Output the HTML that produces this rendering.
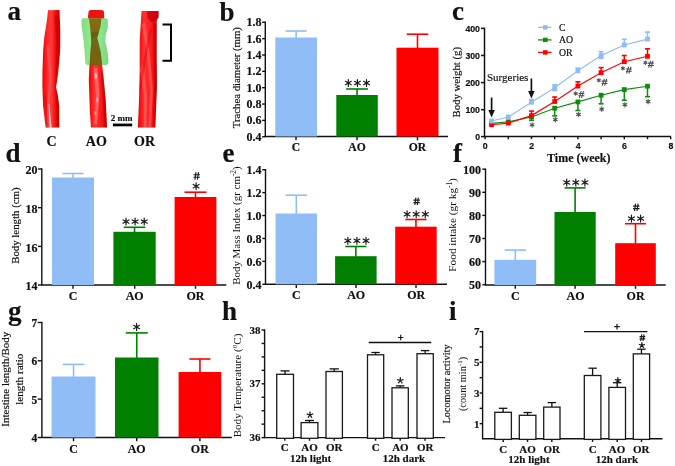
<!DOCTYPE html>
<html><head><meta charset="utf-8"><style>
html,body{margin:0;padding:0;background:#fff;}
svg{display:block;will-change:transform;}
</style></head><body>
<svg width="675" height="466" viewBox="0 0 675 466">
<rect width="675" height="466" fill="#fff"/>
<text x="7.5" y="20.2" font-family='"Liberation Serif", serif' font-size="27" font-weight="bold" text-anchor="start" fill="#111" stroke="#111" stroke-width="0.18">a</text>
<text x="219.5" y="20.6" font-family='"Liberation Serif", serif' font-size="27" font-weight="bold" text-anchor="start" fill="#111" stroke="#111" stroke-width="0.18">b</text>
<text x="452" y="20.2" font-family='"Liberation Serif", serif' font-size="27" font-weight="bold" text-anchor="start" fill="#111" stroke="#111" stroke-width="0.18">c</text>
<text x="5.5" y="161.8" font-family='"Liberation Serif", serif' font-size="27" font-weight="bold" text-anchor="start" fill="#111" stroke="#111" stroke-width="0.18">d</text>
<text x="222.5" y="161.6" font-family='"Liberation Serif", serif' font-size="27" font-weight="bold" text-anchor="start" fill="#111" stroke="#111" stroke-width="0.18">e</text>
<text x="453" y="161.8" font-family='"Liberation Serif", serif' font-size="27" font-weight="bold" text-anchor="start" fill="#111" stroke="#111" stroke-width="0.18">f</text>
<text x="8" y="320" font-family='"Liberation Serif", serif' font-size="27" font-weight="bold" text-anchor="start" fill="#111" stroke="#111" stroke-width="0.18">g</text>
<text x="222" y="319.6" font-family='"Liberation Serif", serif' font-size="27" font-weight="bold" text-anchor="start" fill="#111" stroke="#111" stroke-width="0.18">h</text>
<text x="449" y="319.6" font-family='"Liberation Serif", serif' font-size="27" font-weight="bold" text-anchor="start" fill="#111" stroke="#111" stroke-width="0.18">i</text>
<line x1="265.30" y1="21.60" x2="265.30" y2="136.50" stroke="#111" stroke-width="1.4"/>
<line x1="262.10" y1="22.30" x2="265.30" y2="22.30" stroke="#111" stroke-width="1.4"/>
<line x1="262.10" y1="38.65" x2="265.30" y2="38.65" stroke="#111" stroke-width="1.4"/>
<line x1="262.10" y1="55.00" x2="265.30" y2="55.00" stroke="#111" stroke-width="1.4"/>
<line x1="262.10" y1="71.35" x2="265.30" y2="71.35" stroke="#111" stroke-width="1.4"/>
<line x1="262.10" y1="87.70" x2="265.30" y2="87.70" stroke="#111" stroke-width="1.4"/>
<line x1="262.10" y1="104.05" x2="265.30" y2="104.05" stroke="#111" stroke-width="1.4"/>
<line x1="262.10" y1="120.40" x2="265.30" y2="120.40" stroke="#111" stroke-width="1.4"/>
<line x1="262.10" y1="136.75" x2="265.30" y2="136.75" stroke="#111" stroke-width="1.4"/>
<text x="261.5" y="26.26" font-family='"Liberation Serif", serif' font-size="12" font-weight="bold" text-anchor="end" fill="#111" stroke="#111" stroke-width="0.18">1.8</text>
<text x="261.5" y="42.61000000000001" font-family='"Liberation Serif", serif' font-size="12" font-weight="bold" text-anchor="end" fill="#111" stroke="#111" stroke-width="0.18">1.6</text>
<text x="261.5" y="58.96" font-family='"Liberation Serif", serif' font-size="12" font-weight="bold" text-anchor="end" fill="#111" stroke="#111" stroke-width="0.18">1.4</text>
<text x="261.5" y="75.31" font-family='"Liberation Serif", serif' font-size="12" font-weight="bold" text-anchor="end" fill="#111" stroke="#111" stroke-width="0.18">1.2</text>
<text x="261.5" y="91.66" font-family='"Liberation Serif", serif' font-size="12" font-weight="bold" text-anchor="end" fill="#111" stroke="#111" stroke-width="0.18">1.0</text>
<text x="261.5" y="108.00999999999999" font-family='"Liberation Serif", serif' font-size="12" font-weight="bold" text-anchor="end" fill="#111" stroke="#111" stroke-width="0.18">0.8</text>
<text x="261.5" y="124.36" font-family='"Liberation Serif", serif' font-size="12" font-weight="bold" text-anchor="end" fill="#111" stroke="#111" stroke-width="0.18">0.6</text>
<text x="261.5" y="140.71000000000004" font-family='"Liberation Serif", serif' font-size="12" font-weight="bold" text-anchor="end" fill="#111" stroke="#111" stroke-width="0.18">0.4</text>
<line x1="264.60" y1="136.50" x2="448.00" y2="136.50" stroke="#111" stroke-width="1.4"/>
<line x1="296.00" y1="136.50" x2="296.00" y2="140.30" stroke="#111" stroke-width="1.4"/>
<line x1="357.00" y1="136.50" x2="357.00" y2="140.30" stroke="#111" stroke-width="1.4"/>
<line x1="417.50" y1="136.50" x2="417.50" y2="140.30" stroke="#111" stroke-width="1.4"/>
<line x1="296.15" y1="31.00" x2="296.15" y2="38.00" stroke="#91bdf7" stroke-width="1.6"/>
<line x1="285.55" y1="31.00" x2="306.75" y2="31.00" stroke="#91bdf7" stroke-width="1.6"/>
<rect x="275.30" y="37.50" width="41.70" height="99.00" fill="#91bdf7"/>
<line x1="357.05" y1="89.00" x2="357.05" y2="95.50" stroke="#007f00" stroke-width="1.6"/>
<line x1="346.15" y1="89.00" x2="367.95" y2="89.00" stroke="#007f00" stroke-width="1.6"/>
<rect x="336.30" y="95.00" width="41.50" height="41.50" fill="#007f00"/>
<line x1="417.50" y1="34.20" x2="417.50" y2="48.20" stroke="#ff0000" stroke-width="1.6"/>
<line x1="406.70" y1="34.20" x2="428.30" y2="34.20" stroke="#ff0000" stroke-width="1.6"/>
<rect x="396.50" y="47.70" width="42.00" height="88.80" fill="#ff0000"/>
<text x="296" y="151.2" font-family='"Liberation Serif", serif' font-size="11.6" font-weight="bold" text-anchor="middle" fill="#111" stroke="#111" stroke-width="0.18">C</text>
<text x="357" y="151.2" font-family='"Liberation Serif", serif' font-size="11.6" font-weight="bold" text-anchor="middle" fill="#111" stroke="#111" stroke-width="0.18">AO</text>
<text x="417.5" y="151.2" font-family='"Liberation Serif", serif' font-size="11.6" font-weight="bold" text-anchor="middle" fill="#111" stroke="#111" stroke-width="0.18">OR</text>
<path d="M348.30,83.00L348.30,79.60M348.30,83.00L345.36,81.30M348.30,83.00L345.36,84.70M348.30,83.00L348.30,86.40M348.30,83.00L351.24,84.70M348.30,83.00L351.24,81.30" stroke="#1a1a1a" stroke-width="1.2" stroke-linecap="round" fill="none"/>
<path d="M357.40,83.00L357.40,79.60M357.40,83.00L354.46,81.30M357.40,83.00L354.46,84.70M357.40,83.00L357.40,86.40M357.40,83.00L360.34,84.70M357.40,83.00L360.34,81.30" stroke="#1a1a1a" stroke-width="1.2" stroke-linecap="round" fill="none"/>
<path d="M366.50,83.00L366.50,79.60M366.50,83.00L363.56,81.30M366.50,83.00L363.56,84.70M366.50,83.00L366.50,86.40M366.50,83.00L369.44,84.70M366.50,83.00L369.44,81.30" stroke="#1a1a1a" stroke-width="1.2" stroke-linecap="round" fill="none"/>
<text x="240.5" y="77.7" font-family='"Liberation Serif", serif' font-size="10.75" font-weight="normal" text-anchor="middle" fill="#111" stroke="#111" stroke-width="0.18" transform="rotate(-90 240.5 77.7)">Trachea diameter (mm)</text>
<line x1="484.50" y1="27.70" x2="484.50" y2="137.30" stroke="#111" stroke-width="1.5"/>
<line x1="481.00" y1="28.40" x2="484.50" y2="28.40" stroke="#111" stroke-width="1.5"/>
<line x1="481.00" y1="55.50" x2="484.50" y2="55.50" stroke="#111" stroke-width="1.5"/>
<line x1="481.00" y1="82.60" x2="484.50" y2="82.60" stroke="#111" stroke-width="1.5"/>
<line x1="481.00" y1="109.70" x2="484.50" y2="109.70" stroke="#111" stroke-width="1.5"/>
<line x1="481.00" y1="136.60" x2="484.50" y2="136.60" stroke="#111" stroke-width="1.5"/>
<text x="480" y="31.5" font-family='"Liberation Sans", sans-serif' font-size="8.75" font-weight="bold" text-anchor="end" fill="#111" stroke="#111" stroke-width="0.18">400</text>
<text x="480" y="58.6" font-family='"Liberation Sans", sans-serif' font-size="8.75" font-weight="bold" text-anchor="end" fill="#111" stroke="#111" stroke-width="0.18">300</text>
<text x="480" y="85.69999999999999" font-family='"Liberation Sans", sans-serif' font-size="8.75" font-weight="bold" text-anchor="end" fill="#111" stroke="#111" stroke-width="0.18">200</text>
<text x="480" y="112.8" font-family='"Liberation Sans", sans-serif' font-size="8.75" font-weight="bold" text-anchor="end" fill="#111" stroke="#111" stroke-width="0.18">100</text>
<text x="480" y="139.7" font-family='"Liberation Sans", sans-serif' font-size="8.75" font-weight="bold" text-anchor="end" fill="#111" stroke="#111" stroke-width="0.18">0</text>
<line x1="484.50" y1="136.60" x2="670.80" y2="136.60" stroke="#111" stroke-width="1.5"/>
<line x1="485.10" y1="136.60" x2="485.10" y2="139.20" stroke="#111" stroke-width="1.4"/>
<line x1="508.30" y1="136.60" x2="508.30" y2="139.20" stroke="#111" stroke-width="1.4"/>
<line x1="531.50" y1="136.60" x2="531.50" y2="139.20" stroke="#111" stroke-width="1.4"/>
<line x1="554.70" y1="136.60" x2="554.70" y2="139.20" stroke="#111" stroke-width="1.4"/>
<line x1="577.90" y1="136.60" x2="577.90" y2="139.20" stroke="#111" stroke-width="1.4"/>
<line x1="601.10" y1="136.60" x2="601.10" y2="139.20" stroke="#111" stroke-width="1.4"/>
<line x1="624.30" y1="136.60" x2="624.30" y2="139.20" stroke="#111" stroke-width="1.4"/>
<line x1="647.50" y1="136.60" x2="647.50" y2="139.20" stroke="#111" stroke-width="1.4"/>
<line x1="670.70" y1="136.60" x2="670.70" y2="139.20" stroke="#111" stroke-width="1.4"/>
<text x="485.3" y="149.1" font-family='"Liberation Sans", sans-serif' font-size="8.75" font-weight="bold" text-anchor="middle" fill="#111" stroke="#111" stroke-width="0.18">0</text>
<text x="531.7" y="149.1" font-family='"Liberation Sans", sans-serif' font-size="8.75" font-weight="bold" text-anchor="middle" fill="#111" stroke="#111" stroke-width="0.18">2</text>
<text x="578.1" y="149.1" font-family='"Liberation Sans", sans-serif' font-size="8.75" font-weight="bold" text-anchor="middle" fill="#111" stroke="#111" stroke-width="0.18">4</text>
<text x="624.5" y="149.1" font-family='"Liberation Sans", sans-serif' font-size="8.75" font-weight="bold" text-anchor="middle" fill="#111" stroke="#111" stroke-width="0.18">6</text>
<text x="670.9000000000001" y="149.1" font-family='"Liberation Sans", sans-serif' font-size="8.75" font-weight="bold" text-anchor="middle" fill="#111" stroke="#111" stroke-width="0.18">8</text>
<text x="578.8" y="162.4" font-family='"Liberation Serif", serif' font-size="12" font-weight="bold" text-anchor="middle" fill="#111" stroke="#111" stroke-width="0.18">Time (week)</text>
<text x="460" y="82.2" font-family='"Liberation Serif", serif' font-size="10.75" font-weight="normal" text-anchor="middle" fill="#111" stroke="#111" stroke-width="0.18" transform="rotate(-90 460 82.2)">Body weight (g)</text>
<polyline points="491.60,123.40 508.30,121.80 531.50,117.00 554.70,108.20 577.90,101.90 601.10,95.20 624.30,89.60 647.50,86.20" fill="none" stroke="#108a10" stroke-width="1.15"/>
<rect x="489.20" y="121.00" width="4.80" height="4.80" fill="#108a10"/>
<rect x="505.90" y="119.40" width="4.80" height="4.80" fill="#108a10"/>
<line x1="531.50" y1="117.00" x2="531.50" y2="120.40" stroke="#108a10" stroke-width="1.5"/>
<line x1="529.00" y1="120.40" x2="534.00" y2="120.40" stroke="#108a10" stroke-width="1.6"/>
<rect x="529.10" y="114.60" width="4.80" height="4.80" fill="#108a10"/>
<line x1="554.70" y1="108.20" x2="554.70" y2="115.90" stroke="#108a10" stroke-width="1.5"/>
<line x1="552.20" y1="115.90" x2="557.20" y2="115.90" stroke="#108a10" stroke-width="1.6"/>
<rect x="552.30" y="105.80" width="4.80" height="4.80" fill="#108a10"/>
<line x1="577.90" y1="101.90" x2="577.90" y2="110.50" stroke="#108a10" stroke-width="1.5"/>
<line x1="575.40" y1="110.50" x2="580.40" y2="110.50" stroke="#108a10" stroke-width="1.6"/>
<rect x="575.50" y="99.50" width="4.80" height="4.80" fill="#108a10"/>
<line x1="601.10" y1="95.20" x2="601.10" y2="103.80" stroke="#108a10" stroke-width="1.5"/>
<line x1="598.60" y1="103.80" x2="603.60" y2="103.80" stroke="#108a10" stroke-width="1.6"/>
<rect x="598.70" y="92.80" width="4.80" height="4.80" fill="#108a10"/>
<line x1="624.30" y1="89.60" x2="624.30" y2="100.20" stroke="#108a10" stroke-width="1.5"/>
<line x1="621.80" y1="100.20" x2="626.80" y2="100.20" stroke="#108a10" stroke-width="1.6"/>
<rect x="621.90" y="87.20" width="4.80" height="4.80" fill="#108a10"/>
<line x1="647.50" y1="86.20" x2="647.50" y2="96.70" stroke="#108a10" stroke-width="1.5"/>
<line x1="645.00" y1="96.70" x2="650.00" y2="96.70" stroke="#108a10" stroke-width="1.6"/>
<rect x="645.10" y="83.80" width="4.80" height="4.80" fill="#108a10"/>
<polyline points="491.60,124.70 508.30,123.10 531.50,115.60 554.70,101.50 577.90,86.10 601.10,72.70 624.30,61.70 647.50,56.30" fill="none" stroke="#ff0000" stroke-width="1.15"/>
<rect x="489.20" y="122.30" width="4.80" height="4.80" fill="#ff0000"/>
<rect x="505.90" y="120.70" width="4.80" height="4.80" fill="#ff0000"/>
<line x1="531.50" y1="115.60" x2="531.50" y2="111.10" stroke="#ff0000" stroke-width="1.5"/>
<line x1="529.00" y1="111.10" x2="534.00" y2="111.10" stroke="#ff0000" stroke-width="1.6"/>
<rect x="529.10" y="113.20" width="4.80" height="4.80" fill="#ff0000"/>
<line x1="554.70" y1="101.50" x2="554.70" y2="97.00" stroke="#ff0000" stroke-width="1.5"/>
<line x1="552.20" y1="97.00" x2="557.20" y2="97.00" stroke="#ff0000" stroke-width="1.6"/>
<rect x="552.30" y="99.10" width="4.80" height="4.80" fill="#ff0000"/>
<line x1="577.90" y1="86.10" x2="577.90" y2="81.80" stroke="#ff0000" stroke-width="1.5"/>
<line x1="575.40" y1="81.80" x2="580.40" y2="81.80" stroke="#ff0000" stroke-width="1.6"/>
<rect x="575.50" y="83.70" width="4.80" height="4.80" fill="#ff0000"/>
<line x1="601.10" y1="72.70" x2="601.10" y2="67.60" stroke="#ff0000" stroke-width="1.5"/>
<line x1="598.60" y1="67.60" x2="603.60" y2="67.60" stroke="#ff0000" stroke-width="1.6"/>
<rect x="598.70" y="70.30" width="4.80" height="4.80" fill="#ff0000"/>
<line x1="624.30" y1="61.70" x2="624.30" y2="55.50" stroke="#ff0000" stroke-width="1.5"/>
<line x1="621.80" y1="55.50" x2="626.80" y2="55.50" stroke="#ff0000" stroke-width="1.6"/>
<rect x="621.90" y="59.30" width="4.80" height="4.80" fill="#ff0000"/>
<line x1="647.50" y1="56.30" x2="647.50" y2="48.80" stroke="#ff0000" stroke-width="1.5"/>
<line x1="645.00" y1="48.80" x2="650.00" y2="48.80" stroke="#ff0000" stroke-width="1.6"/>
<rect x="645.10" y="53.90" width="4.80" height="4.80" fill="#ff0000"/>
<polyline points="491.60,121.00 508.30,117.00 531.50,102.20 554.70,87.80 577.90,70.80 601.10,55.60 624.30,45.00 647.50,39.10" fill="none" stroke="#90bcf2" stroke-width="1.15"/>
<rect x="489.20" y="118.60" width="4.80" height="4.80" fill="#90bcf2"/>
<rect x="505.90" y="114.60" width="4.80" height="4.80" fill="#90bcf2"/>
<line x1="531.50" y1="102.20" x2="531.50" y2="99.50" stroke="#90bcf2" stroke-width="1.5"/>
<line x1="529.00" y1="99.50" x2="534.00" y2="99.50" stroke="#90bcf2" stroke-width="1.6"/>
<rect x="529.10" y="99.80" width="4.80" height="4.80" fill="#90bcf2"/>
<line x1="554.70" y1="87.80" x2="554.70" y2="90.50" stroke="#90bcf2" stroke-width="1.5"/>
<line x1="552.20" y1="90.50" x2="557.20" y2="90.50" stroke="#90bcf2" stroke-width="1.6"/>
<line x1="554.70" y1="87.80" x2="554.70" y2="84.80" stroke="#90bcf2" stroke-width="1.5"/>
<line x1="552.20" y1="84.80" x2="557.20" y2="84.80" stroke="#90bcf2" stroke-width="1.6"/>
<rect x="552.30" y="85.40" width="4.80" height="4.80" fill="#90bcf2"/>
<line x1="577.90" y1="70.80" x2="577.90" y2="68.20" stroke="#90bcf2" stroke-width="1.5"/>
<line x1="575.40" y1="68.20" x2="580.40" y2="68.20" stroke="#90bcf2" stroke-width="1.6"/>
<rect x="575.50" y="68.40" width="4.80" height="4.80" fill="#90bcf2"/>
<line x1="601.10" y1="55.60" x2="601.10" y2="58.40" stroke="#90bcf2" stroke-width="1.5"/>
<line x1="598.60" y1="58.40" x2="603.60" y2="58.40" stroke="#90bcf2" stroke-width="1.6"/>
<line x1="601.10" y1="55.60" x2="601.10" y2="51.60" stroke="#90bcf2" stroke-width="1.5"/>
<line x1="598.60" y1="51.60" x2="603.60" y2="51.60" stroke="#90bcf2" stroke-width="1.6"/>
<rect x="598.70" y="53.20" width="4.80" height="4.80" fill="#90bcf2"/>
<line x1="624.30" y1="45.00" x2="624.30" y2="39.30" stroke="#90bcf2" stroke-width="1.5"/>
<line x1="621.80" y1="39.30" x2="626.80" y2="39.30" stroke="#90bcf2" stroke-width="1.6"/>
<rect x="621.90" y="42.60" width="4.80" height="4.80" fill="#90bcf2"/>
<line x1="647.50" y1="39.10" x2="647.50" y2="32.10" stroke="#90bcf2" stroke-width="1.5"/>
<line x1="645.00" y1="32.10" x2="650.00" y2="32.10" stroke="#90bcf2" stroke-width="1.6"/>
<rect x="645.10" y="36.70" width="4.80" height="4.80" fill="#90bcf2"/>
<path d="M532.10,124.90L532.10,122.70M532.10,124.90L530.19,123.80M532.10,124.90L530.19,126.00M532.10,124.90L532.10,127.10M532.10,124.90L534.01,126.00M532.10,124.90L534.01,123.80" stroke="#555" stroke-width="1.15" stroke-linecap="round" fill="none"/>
<path d="M555.30,119.60L555.30,117.40M555.30,119.60L553.39,118.50M555.30,119.60L553.39,120.70M555.30,119.60L555.30,121.80M555.30,119.60L557.21,120.70M555.30,119.60L557.21,118.50" stroke="#555" stroke-width="1.15" stroke-linecap="round" fill="none"/>
<path d="M578.50,114.40L578.50,112.20M578.50,114.40L576.59,113.30M578.50,114.40L576.59,115.50M578.50,114.40L578.50,116.60M578.50,114.40L580.41,115.50M578.50,114.40L580.41,113.30" stroke="#555" stroke-width="1.15" stroke-linecap="round" fill="none"/>
<path d="M601.70,109.10L601.70,106.90M601.70,109.10L599.79,108.00M601.70,109.10L599.79,110.20M601.70,109.10L601.70,111.30M601.70,109.10L603.61,110.20M601.70,109.10L603.61,108.00" stroke="#555" stroke-width="1.15" stroke-linecap="round" fill="none"/>
<path d="M624.90,104.70L624.90,102.50M624.90,104.70L622.99,103.60M624.90,104.70L622.99,105.80M624.90,104.70L624.90,106.90M624.90,104.70L626.81,105.80M624.90,104.70L626.81,103.60" stroke="#555" stroke-width="1.15" stroke-linecap="round" fill="none"/>
<path d="M648.10,101.60L648.10,99.40M648.10,101.60L646.19,100.50M648.10,101.60L646.19,102.70M648.10,101.60L648.10,103.80M648.10,101.60L650.01,102.70M648.10,101.60L650.01,100.50" stroke="#555" stroke-width="1.15" stroke-linecap="round" fill="none"/>
<path d="M575.70,93.50L575.70,91.80M575.70,93.50L574.23,92.65M575.70,93.50L574.23,94.35M575.70,93.50L575.70,95.20M575.70,93.50L577.17,94.35M575.70,93.50L577.17,92.65" stroke="#555" stroke-width="1.1" stroke-linecap="round" fill="none"/>
<path d="M581.26,91.09L579.24,97.90M583.56,91.09L581.54,97.90M578.46,93.41L584.34,93.41M578.46,95.72L584.34,95.72" stroke="#4a4a4a" stroke-width="1.05" fill="none"/>
<path d="M598.80,80.30L598.80,78.60M598.80,80.30L597.33,79.45M598.80,80.30L597.33,81.15M598.80,80.30L598.80,82.00M598.80,80.30L600.27,81.15M598.80,80.30L600.27,79.45" stroke="#555" stroke-width="1.1" stroke-linecap="round" fill="none"/>
<path d="M604.36,78.79L602.34,85.60M606.66,78.79L604.64,85.60M601.56,81.11L607.44,81.11M601.56,83.42L607.44,83.42" stroke="#4a4a4a" stroke-width="1.05" fill="none"/>
<path d="M622.90,68.30L622.90,66.60M622.90,68.30L621.43,67.45M622.90,68.30L621.43,69.15M622.90,68.30L622.90,70.00M622.90,68.30L624.37,69.15M622.90,68.30L624.37,67.45" stroke="#555" stroke-width="1.1" stroke-linecap="round" fill="none"/>
<path d="M628.66,66.69L626.64,73.50M630.96,66.69L628.94,73.50M625.86,69.01L631.74,69.01M625.86,71.32L631.74,71.32" stroke="#4a4a4a" stroke-width="1.05" fill="none"/>
<path d="M645.40,62.70L645.40,61.00M645.40,62.70L643.93,61.85M645.40,62.70L643.93,63.55M645.40,62.70L645.40,64.40M645.40,62.70L646.87,63.55M645.40,62.70L646.87,61.85" stroke="#555" stroke-width="1.1" stroke-linecap="round" fill="none"/>
<path d="M650.66,60.79L648.64,67.60M652.96,60.79L650.94,67.60M647.86,63.11L653.74,63.11M647.86,65.42L653.74,65.42" stroke="#4a4a4a" stroke-width="1.05" fill="none"/>
<line x1="491.60" y1="97.50" x2="491.60" y2="111.50" stroke="#111" stroke-width="1.7"/>
<polygon points="488.3,110.0 494.90000000000003,110.0 491.6,117.5" fill="#111"/>
<line x1="531.40" y1="78.50" x2="531.40" y2="92.40" stroke="#111" stroke-width="1.7"/>
<polygon points="528.1,90.9 534.6999999999999,90.9 531.4,98.4" fill="#111"/>
<text x="487" y="81" font-family='"Liberation Serif", serif' font-size="11" font-weight="normal" text-anchor="start" fill="#111" stroke="#111" stroke-width="0.18">Surgeries</text>
<line x1="538.00" y1="27.40" x2="551.50" y2="27.40" stroke="#90bcf2" stroke-width="1.3"/>
<rect x="543.00" y="25.20" width="4.60" height="4.40" fill="#90bcf2"/>
<text x="559" y="30.799999999999997" font-family='"Liberation Serif", serif' font-size="9.8" font-weight="normal" text-anchor="start" fill="#111" stroke="#111" stroke-width="0.18">C</text>
<line x1="538.00" y1="39.90" x2="551.50" y2="39.90" stroke="#108a10" stroke-width="1.3"/>
<rect x="543.00" y="37.70" width="4.60" height="4.40" fill="#108a10"/>
<text x="559" y="43.3" font-family='"Liberation Serif", serif' font-size="9.8" font-weight="normal" text-anchor="start" fill="#111" stroke="#111" stroke-width="0.18">AO</text>
<line x1="538.00" y1="52.40" x2="551.50" y2="52.40" stroke="#ff0000" stroke-width="1.3"/>
<rect x="543.00" y="50.20" width="4.60" height="4.40" fill="#ff0000"/>
<text x="559" y="55.8" font-family='"Liberation Serif", serif' font-size="9.8" font-weight="normal" text-anchor="start" fill="#111" stroke="#111" stroke-width="0.18">OR</text>
<line x1="41.80" y1="168.30" x2="41.80" y2="285.00" stroke="#111" stroke-width="1.4"/>
<line x1="38.00" y1="169.00" x2="41.80" y2="169.00" stroke="#111" stroke-width="1.4"/>
<line x1="38.00" y1="207.70" x2="41.80" y2="207.70" stroke="#111" stroke-width="1.4"/>
<line x1="38.00" y1="246.40" x2="41.80" y2="246.40" stroke="#111" stroke-width="1.4"/>
<line x1="38.00" y1="285.00" x2="41.80" y2="285.00" stroke="#111" stroke-width="1.4"/>
<text x="37.6" y="174.1" font-family='"Liberation Serif", serif' font-size="12" font-weight="bold" text-anchor="end" fill="#111" stroke="#111" stroke-width="0.18">20</text>
<text x="37.6" y="212.79999999999998" font-family='"Liberation Serif", serif' font-size="12" font-weight="bold" text-anchor="end" fill="#111" stroke="#111" stroke-width="0.18">18</text>
<text x="37.6" y="251.5" font-family='"Liberation Serif", serif' font-size="12" font-weight="bold" text-anchor="end" fill="#111" stroke="#111" stroke-width="0.18">16</text>
<text x="37.6" y="290.1" font-family='"Liberation Serif", serif' font-size="12" font-weight="bold" text-anchor="end" fill="#111" stroke="#111" stroke-width="0.18">14</text>
<line x1="41.10" y1="285.00" x2="226.30" y2="285.00" stroke="#111" stroke-width="1.4"/>
<line x1="73.00" y1="285.00" x2="73.00" y2="288.80" stroke="#111" stroke-width="1.4"/>
<line x1="134.70" y1="285.00" x2="134.70" y2="288.80" stroke="#111" stroke-width="1.4"/>
<line x1="195.50" y1="285.00" x2="195.50" y2="288.80" stroke="#111" stroke-width="1.4"/>
<line x1="73.00" y1="173.50" x2="73.00" y2="178.00" stroke="#91bdf7" stroke-width="1.6"/>
<line x1="62.40" y1="173.50" x2="83.60" y2="173.50" stroke="#91bdf7" stroke-width="1.6"/>
<rect x="52.00" y="177.50" width="42.00" height="107.50" fill="#91bdf7"/>
<line x1="134.55" y1="227.30" x2="134.55" y2="232.30" stroke="#007f00" stroke-width="1.6"/>
<line x1="123.65" y1="227.30" x2="145.45" y2="227.30" stroke="#007f00" stroke-width="1.6"/>
<rect x="113.40" y="231.80" width="42.30" height="53.20" fill="#007f00"/>
<line x1="195.50" y1="192.20" x2="195.50" y2="197.50" stroke="#ff0000" stroke-width="1.6"/>
<line x1="184.50" y1="192.20" x2="206.50" y2="192.20" stroke="#ff0000" stroke-width="1.6"/>
<rect x="174.60" y="197.00" width="41.80" height="88.00" fill="#ff0000"/>
<text x="73" y="300" font-family='"Liberation Serif", serif' font-size="12" font-weight="bold" text-anchor="middle" fill="#111" stroke="#111" stroke-width="0.18">C</text>
<text x="134.7" y="300" font-family='"Liberation Serif", serif' font-size="12" font-weight="bold" text-anchor="middle" fill="#111" stroke="#111" stroke-width="0.18">AO</text>
<text x="195.5" y="300" font-family='"Liberation Serif", serif' font-size="12" font-weight="bold" text-anchor="middle" fill="#111" stroke="#111" stroke-width="0.18">OR</text>
<path d="M126.00,221.60L126.00,218.20M126.00,221.60L123.06,219.90M126.00,221.60L123.06,223.30M126.00,221.60L126.00,225.00M126.00,221.60L128.94,223.30M126.00,221.60L128.94,219.90" stroke="#1a1a1a" stroke-width="1.2" stroke-linecap="round" fill="none"/>
<path d="M135.10,221.60L135.10,218.20M135.10,221.60L132.16,219.90M135.10,221.60L132.16,223.30M135.10,221.60L135.10,225.00M135.10,221.60L138.04,223.30M135.10,221.60L138.04,219.90" stroke="#1a1a1a" stroke-width="1.2" stroke-linecap="round" fill="none"/>
<path d="M144.20,221.60L144.20,218.20M144.20,221.60L141.26,219.90M144.20,221.60L141.26,223.30M144.20,221.60L144.20,225.00M144.20,221.60L147.14,223.30M144.20,221.60L147.14,219.90" stroke="#1a1a1a" stroke-width="1.2" stroke-linecap="round" fill="none"/>
<path d="M196.10,186.20L196.10,182.80M196.10,186.20L193.16,184.50M196.10,186.20L193.16,187.90M196.10,186.20L196.10,189.60M196.10,186.20L199.04,187.90M196.10,186.20L199.04,184.50" stroke="#1a1a1a" stroke-width="1.2" stroke-linecap="round" fill="none"/>
<path d="M196.00,172.20L194.90,179.60M198.50,172.20L197.40,179.60M193.50,174.72L199.90,174.72M193.50,177.23L199.90,177.23" stroke="#1a1a1a" stroke-width="1.15" fill="none"/>
<text x="19.5" y="225.6" font-family='"Liberation Serif", serif' font-size="10.85" font-weight="normal" text-anchor="middle" fill="#111" stroke="#111" stroke-width="0.18" transform="rotate(-90 19.5 225.6)">Body length (cm)</text>
<line x1="265.50" y1="169.00" x2="265.50" y2="284.30" stroke="#111" stroke-width="1.4"/>
<line x1="262.30" y1="169.70" x2="265.50" y2="169.70" stroke="#111" stroke-width="1.4"/>
<line x1="262.30" y1="192.62" x2="265.50" y2="192.62" stroke="#111" stroke-width="1.4"/>
<line x1="262.30" y1="215.54" x2="265.50" y2="215.54" stroke="#111" stroke-width="1.4"/>
<line x1="262.30" y1="238.46" x2="265.50" y2="238.46" stroke="#111" stroke-width="1.4"/>
<line x1="262.30" y1="261.38" x2="265.50" y2="261.38" stroke="#111" stroke-width="1.4"/>
<line x1="262.30" y1="284.30" x2="265.50" y2="284.30" stroke="#111" stroke-width="1.4"/>
<text x="261.5" y="174.39999999999998" font-family='"Liberation Serif", serif' font-size="12" font-weight="bold" text-anchor="end" fill="#111" stroke="#111" stroke-width="0.18">1.4</text>
<text x="261.5" y="197.32" font-family='"Liberation Serif", serif' font-size="12" font-weight="bold" text-anchor="end" fill="#111" stroke="#111" stroke-width="0.18">1.2</text>
<text x="261.5" y="220.23999999999998" font-family='"Liberation Serif", serif' font-size="12" font-weight="bold" text-anchor="end" fill="#111" stroke="#111" stroke-width="0.18">1.0</text>
<text x="261.5" y="243.15999999999997" font-family='"Liberation Serif", serif' font-size="12" font-weight="bold" text-anchor="end" fill="#111" stroke="#111" stroke-width="0.18">0.8</text>
<text x="261.5" y="266.08" font-family='"Liberation Serif", serif' font-size="12" font-weight="bold" text-anchor="end" fill="#111" stroke="#111" stroke-width="0.18">0.6</text>
<text x="261.5" y="289.0" font-family='"Liberation Serif", serif' font-size="12" font-weight="bold" text-anchor="end" fill="#111" stroke="#111" stroke-width="0.18">0.4</text>
<line x1="264.80" y1="284.30" x2="447.00" y2="284.30" stroke="#111" stroke-width="1.4"/>
<line x1="296.30" y1="284.30" x2="296.30" y2="288.10" stroke="#111" stroke-width="1.4"/>
<line x1="356.00" y1="284.30" x2="356.00" y2="288.10" stroke="#111" stroke-width="1.4"/>
<line x1="416.00" y1="284.30" x2="416.00" y2="288.10" stroke="#111" stroke-width="1.4"/>
<line x1="296.30" y1="195.20" x2="296.30" y2="214.00" stroke="#91bdf7" stroke-width="1.6"/>
<line x1="285.70" y1="195.20" x2="306.90" y2="195.20" stroke="#91bdf7" stroke-width="1.6"/>
<rect x="275.60" y="213.50" width="41.40" height="70.80" fill="#91bdf7"/>
<line x1="355.85" y1="246.50" x2="355.85" y2="256.70" stroke="#007f00" stroke-width="1.6"/>
<line x1="345.25" y1="246.50" x2="366.45" y2="246.50" stroke="#007f00" stroke-width="1.6"/>
<rect x="335.10" y="256.20" width="41.50" height="28.10" fill="#007f00"/>
<line x1="415.95" y1="219.50" x2="415.95" y2="227.20" stroke="#ff0000" stroke-width="1.6"/>
<line x1="405.35" y1="219.50" x2="426.55" y2="219.50" stroke="#ff0000" stroke-width="1.6"/>
<rect x="395.20" y="226.70" width="41.50" height="57.60" fill="#ff0000"/>
<text x="296.3" y="298.8" font-family='"Liberation Serif", serif' font-size="12" font-weight="bold" text-anchor="middle" fill="#111" stroke="#111" stroke-width="0.18">C</text>
<text x="356.2" y="298.8" font-family='"Liberation Serif", serif' font-size="12" font-weight="bold" text-anchor="middle" fill="#111" stroke="#111" stroke-width="0.18">AO</text>
<text x="416.2" y="298.8" font-family='"Liberation Serif", serif' font-size="12" font-weight="bold" text-anchor="middle" fill="#111" stroke="#111" stroke-width="0.18">OR</text>
<path d="M347.80,240.80L347.80,237.40M347.80,240.80L344.86,239.10M347.80,240.80L344.86,242.50M347.80,240.80L347.80,244.20M347.80,240.80L350.74,242.50M347.80,240.80L350.74,239.10" stroke="#1a1a1a" stroke-width="1.2" stroke-linecap="round" fill="none"/>
<path d="M356.90,240.80L356.90,237.40M356.90,240.80L353.96,239.10M356.90,240.80L353.96,242.50M356.90,240.80L356.90,244.20M356.90,240.80L359.84,242.50M356.90,240.80L359.84,239.10" stroke="#1a1a1a" stroke-width="1.2" stroke-linecap="round" fill="none"/>
<path d="M366.00,240.80L366.00,237.40M366.00,240.80L363.06,239.10M366.00,240.80L363.06,242.50M366.00,240.80L366.00,244.20M366.00,240.80L368.94,242.50M366.00,240.80L368.94,239.10" stroke="#1a1a1a" stroke-width="1.2" stroke-linecap="round" fill="none"/>
<path d="M407.10,214.30L407.10,210.90M407.10,214.30L404.16,212.60M407.10,214.30L404.16,216.00M407.10,214.30L407.10,217.70M407.10,214.30L410.04,216.00M407.10,214.30L410.04,212.60" stroke="#1a1a1a" stroke-width="1.2" stroke-linecap="round" fill="none"/>
<path d="M416.20,214.30L416.20,210.90M416.20,214.30L413.26,212.60M416.20,214.30L413.26,216.00M416.20,214.30L416.20,217.70M416.20,214.30L419.14,216.00M416.20,214.30L419.14,212.60" stroke="#1a1a1a" stroke-width="1.2" stroke-linecap="round" fill="none"/>
<path d="M425.30,214.30L425.30,210.90M425.30,214.30L422.36,212.60M425.30,214.30L422.36,216.00M425.30,214.30L425.30,217.70M425.30,214.30L428.24,216.00M425.30,214.30L428.24,212.60" stroke="#1a1a1a" stroke-width="1.2" stroke-linecap="round" fill="none"/>
<path d="M415.90,197.60L414.80,205.00M418.40,197.60L417.30,205.00M413.40,200.12L419.80,200.12M413.40,202.63L419.80,202.63" stroke="#1a1a1a" stroke-width="1.15" fill="none"/>
<text x="240.5" y="225.6" font-family='"Liberation Serif", serif' font-size="10.95" text-anchor="middle" fill="#111" transform="rotate(-90 240.5 225.6)">Body Mass Index (gr cm<tspan font-size="7.2" dy="-4.5">-2</tspan><tspan dy="4.5">)</tspan></text>
<line x1="485.50" y1="168.50" x2="485.50" y2="285.00" stroke="#111" stroke-width="1.4"/>
<line x1="482.30" y1="169.20" x2="485.50" y2="169.20" stroke="#111" stroke-width="1.4"/>
<line x1="482.30" y1="192.30" x2="485.50" y2="192.30" stroke="#111" stroke-width="1.4"/>
<line x1="482.30" y1="215.40" x2="485.50" y2="215.40" stroke="#111" stroke-width="1.4"/>
<line x1="482.30" y1="238.50" x2="485.50" y2="238.50" stroke="#111" stroke-width="1.4"/>
<line x1="482.30" y1="261.60" x2="485.50" y2="261.60" stroke="#111" stroke-width="1.4"/>
<line x1="482.30" y1="284.70" x2="485.50" y2="284.70" stroke="#111" stroke-width="1.4"/>
<text x="481" y="173.89999999999998" font-family='"Liberation Serif", serif' font-size="12" font-weight="bold" text-anchor="end" fill="#111" stroke="#111" stroke-width="0.18">100</text>
<text x="481" y="196.99999999999997" font-family='"Liberation Serif", serif' font-size="12" font-weight="bold" text-anchor="end" fill="#111" stroke="#111" stroke-width="0.18">90</text>
<text x="481" y="220.09999999999997" font-family='"Liberation Serif", serif' font-size="12" font-weight="bold" text-anchor="end" fill="#111" stroke="#111" stroke-width="0.18">80</text>
<text x="481" y="243.2" font-family='"Liberation Serif", serif' font-size="12" font-weight="bold" text-anchor="end" fill="#111" stroke="#111" stroke-width="0.18">70</text>
<text x="481" y="266.3" font-family='"Liberation Serif", serif' font-size="12" font-weight="bold" text-anchor="end" fill="#111" stroke="#111" stroke-width="0.18">60</text>
<text x="481" y="289.4" font-family='"Liberation Serif", serif' font-size="12" font-weight="bold" text-anchor="end" fill="#111" stroke="#111" stroke-width="0.18">50</text>
<line x1="484.80" y1="285.00" x2="665.70" y2="285.00" stroke="#111" stroke-width="1.4"/>
<line x1="515.30" y1="285.00" x2="515.30" y2="288.80" stroke="#111" stroke-width="1.4"/>
<line x1="575.10" y1="285.00" x2="575.10" y2="288.80" stroke="#111" stroke-width="1.4"/>
<line x1="635.50" y1="285.00" x2="635.50" y2="288.80" stroke="#111" stroke-width="1.4"/>
<line x1="515.30" y1="250.10" x2="515.30" y2="260.30" stroke="#91bdf7" stroke-width="1.6"/>
<line x1="504.70" y1="250.10" x2="525.90" y2="250.10" stroke="#91bdf7" stroke-width="1.6"/>
<rect x="494.40" y="259.80" width="41.80" height="25.20" fill="#91bdf7"/>
<line x1="575.10" y1="187.90" x2="575.10" y2="212.50" stroke="#007f00" stroke-width="1.6"/>
<line x1="564.60" y1="187.90" x2="585.60" y2="187.90" stroke="#007f00" stroke-width="1.6"/>
<rect x="554.50" y="212.00" width="41.20" height="73.00" fill="#007f00"/>
<line x1="635.50" y1="223.70" x2="635.50" y2="243.70" stroke="#ff0000" stroke-width="1.6"/>
<line x1="625.00" y1="223.70" x2="646.00" y2="223.70" stroke="#ff0000" stroke-width="1.6"/>
<rect x="615.20" y="243.20" width="40.60" height="41.80" fill="#ff0000"/>
<text x="515.3" y="299.5" font-family='"Liberation Serif", serif' font-size="12" font-weight="bold" text-anchor="middle" fill="#111" stroke="#111" stroke-width="0.18">C</text>
<text x="575.6" y="299.5" font-family='"Liberation Serif", serif' font-size="12" font-weight="bold" text-anchor="middle" fill="#111" stroke="#111" stroke-width="0.18">AO</text>
<text x="635.6" y="299.5" font-family='"Liberation Serif", serif' font-size="12" font-weight="bold" text-anchor="middle" fill="#111" stroke="#111" stroke-width="0.18">OR</text>
<path d="M566.70,182.50L566.70,179.10M566.70,182.50L563.76,180.80M566.70,182.50L563.76,184.20M566.70,182.50L566.70,185.90M566.70,182.50L569.64,184.20M566.70,182.50L569.64,180.80" stroke="#1a1a1a" stroke-width="1.2" stroke-linecap="round" fill="none"/>
<path d="M575.80,182.50L575.80,179.10M575.80,182.50L572.86,180.80M575.80,182.50L572.86,184.20M575.80,182.50L575.80,185.90M575.80,182.50L578.74,184.20M575.80,182.50L578.74,180.80" stroke="#1a1a1a" stroke-width="1.2" stroke-linecap="round" fill="none"/>
<path d="M584.90,182.50L584.90,179.10M584.90,182.50L581.96,180.80M584.90,182.50L581.96,184.20M584.90,182.50L584.90,185.90M584.90,182.50L587.84,184.20M584.90,182.50L587.84,180.80" stroke="#1a1a1a" stroke-width="1.2" stroke-linecap="round" fill="none"/>
<path d="M631.45,218.60L631.45,215.20M631.45,218.60L628.51,216.90M631.45,218.60L628.51,220.30M631.45,218.60L631.45,222.00M631.45,218.60L634.39,220.30M631.45,218.60L634.39,216.90" stroke="#1a1a1a" stroke-width="1.2" stroke-linecap="round" fill="none"/>
<path d="M640.55,218.60L640.55,215.20M640.55,218.60L637.61,216.90M640.55,218.60L637.61,220.30M640.55,218.60L640.55,222.00M640.55,218.60L643.49,220.30M640.55,218.60L643.49,216.90" stroke="#1a1a1a" stroke-width="1.2" stroke-linecap="round" fill="none"/>
<path d="M635.60,203.60L634.50,211.00M638.10,203.60L637.00,211.00M633.10,206.12L639.50,206.12M633.10,208.63L639.50,208.63" stroke="#1a1a1a" stroke-width="1.15" fill="none"/>
<text x="456.2" y="224.9" font-family='"Liberation Serif", serif' font-size="11.3" text-anchor="middle" fill="#111" transform="rotate(-90 456.2 224.9)">Food intake (gr kg<tspan font-size="7.2" dy="-4.5">-1</tspan><tspan dy="4.5">)</tspan></text>
<line x1="41.90" y1="321.80" x2="41.90" y2="437.50" stroke="#111" stroke-width="1.4"/>
<line x1="37.70" y1="322.50" x2="41.90" y2="322.50" stroke="#111" stroke-width="1.4"/>
<line x1="37.70" y1="360.80" x2="41.90" y2="360.80" stroke="#111" stroke-width="1.4"/>
<line x1="37.70" y1="399.10" x2="41.90" y2="399.10" stroke="#111" stroke-width="1.4"/>
<line x1="37.70" y1="437.50" x2="41.90" y2="437.50" stroke="#111" stroke-width="1.4"/>
<text x="37.2" y="326.9" font-family='"Liberation Serif", serif' font-size="11.5" font-weight="bold" text-anchor="end" fill="#111" stroke="#111" stroke-width="0.18">7</text>
<text x="37.2" y="365.2" font-family='"Liberation Serif", serif' font-size="11.5" font-weight="bold" text-anchor="end" fill="#111" stroke="#111" stroke-width="0.18">6</text>
<text x="37.2" y="403.5" font-family='"Liberation Serif", serif' font-size="11.5" font-weight="bold" text-anchor="end" fill="#111" stroke="#111" stroke-width="0.18">5</text>
<text x="37.2" y="441.9" font-family='"Liberation Serif", serif' font-size="11.5" font-weight="bold" text-anchor="end" fill="#111" stroke="#111" stroke-width="0.18">4</text>
<line x1="41.20" y1="437.50" x2="231.80" y2="437.50" stroke="#111" stroke-width="1.4"/>
<line x1="73.50" y1="437.50" x2="73.50" y2="441.30" stroke="#111" stroke-width="1.4"/>
<line x1="136.70" y1="437.50" x2="136.70" y2="441.30" stroke="#111" stroke-width="1.4"/>
<line x1="199.90" y1="437.50" x2="199.90" y2="441.30" stroke="#111" stroke-width="1.4"/>
<line x1="73.55" y1="364.40" x2="73.55" y2="377.00" stroke="#91bdf7" stroke-width="1.6"/>
<line x1="62.75" y1="364.40" x2="84.35" y2="364.40" stroke="#91bdf7" stroke-width="1.6"/>
<rect x="51.60" y="376.50" width="43.90" height="61.00" fill="#91bdf7"/>
<line x1="136.75" y1="332.90" x2="136.75" y2="358.00" stroke="#007f00" stroke-width="1.6"/>
<line x1="125.75" y1="332.90" x2="147.75" y2="332.90" stroke="#007f00" stroke-width="1.6"/>
<rect x="115.00" y="357.50" width="43.50" height="80.00" fill="#007f00"/>
<line x1="199.95" y1="359.00" x2="199.95" y2="372.50" stroke="#ff0000" stroke-width="1.6"/>
<line x1="189.45" y1="359.00" x2="210.45" y2="359.00" stroke="#ff0000" stroke-width="1.6"/>
<rect x="178.60" y="372.00" width="42.70" height="65.50" fill="#ff0000"/>
<text x="73.5" y="452.6" font-family='"Liberation Serif", serif' font-size="12" font-weight="bold" text-anchor="middle" fill="#111" stroke="#111" stroke-width="0.18">C</text>
<text x="136.7" y="452.6" font-family='"Liberation Serif", serif' font-size="12" font-weight="bold" text-anchor="middle" fill="#111" stroke="#111" stroke-width="0.18">AO</text>
<text x="199.8" y="452.6" font-family='"Liberation Serif", serif' font-size="12" font-weight="bold" text-anchor="middle" fill="#111" stroke="#111" stroke-width="0.18">OR</text>
<path d="M136.60,327.00L136.60,323.60M136.60,327.00L133.66,325.30M136.60,327.00L133.66,328.70M136.60,327.00L136.60,330.40M136.60,327.00L139.54,328.70M136.60,327.00L139.54,325.30" stroke="#1a1a1a" stroke-width="1.2" stroke-linecap="round" fill="none"/>
<text x="8.9" y="379.2" font-family='"Liberation Serif", serif' font-size="11" font-weight="normal" text-anchor="middle" fill="#111" stroke="#111" stroke-width="0.18" transform="rotate(-90 8.9 379.2)">Intestine length/Body</text>
<text x="23.3" y="379.2" font-family='"Liberation Serif", serif' font-size="11.2" font-weight="normal" text-anchor="middle" fill="#111" stroke="#111" stroke-width="0.18" transform="rotate(-90 23.3 379.2)">length ratio</text>
<line x1="264.60" y1="329.30" x2="264.60" y2="437.60" stroke="#111" stroke-width="1.4"/>
<line x1="261.60" y1="330.00" x2="264.60" y2="330.00" stroke="#111" stroke-width="1.4"/>
<line x1="261.60" y1="343.45" x2="264.60" y2="343.45" stroke="#111" stroke-width="1.4"/>
<line x1="261.60" y1="356.90" x2="264.60" y2="356.90" stroke="#111" stroke-width="1.4"/>
<line x1="261.60" y1="370.35" x2="264.60" y2="370.35" stroke="#111" stroke-width="1.4"/>
<line x1="261.60" y1="383.80" x2="264.60" y2="383.80" stroke="#111" stroke-width="1.4"/>
<line x1="261.60" y1="397.25" x2="264.60" y2="397.25" stroke="#111" stroke-width="1.4"/>
<line x1="261.60" y1="410.70" x2="264.60" y2="410.70" stroke="#111" stroke-width="1.4"/>
<line x1="261.60" y1="424.15" x2="264.60" y2="424.15" stroke="#111" stroke-width="1.4"/>
<line x1="261.60" y1="437.60" x2="264.60" y2="437.60" stroke="#111" stroke-width="1.4"/>
<text x="260.5" y="333.6" font-family='"Liberation Serif", serif' font-size="11" font-weight="bold" text-anchor="end" fill="#111" stroke="#111" stroke-width="0.18">38</text>
<text x="260.5" y="387.40000000000003" font-family='"Liberation Serif", serif' font-size="11" font-weight="bold" text-anchor="end" fill="#111" stroke="#111" stroke-width="0.18">37</text>
<text x="260.5" y="441.20000000000005" font-family='"Liberation Serif", serif' font-size="11" font-weight="bold" text-anchor="end" fill="#111" stroke="#111" stroke-width="0.18">36</text>
<line x1="263.90" y1="437.60" x2="445.00" y2="437.60" stroke="#111" stroke-width="1.4"/>
<line x1="284.80" y1="437.60" x2="284.80" y2="440.80" stroke="#111" stroke-width="1.4"/>
<line x1="309.50" y1="437.60" x2="309.50" y2="440.80" stroke="#111" stroke-width="1.4"/>
<line x1="334.20" y1="437.60" x2="334.20" y2="440.80" stroke="#111" stroke-width="1.4"/>
<line x1="375.60" y1="437.60" x2="375.60" y2="440.80" stroke="#111" stroke-width="1.4"/>
<line x1="400.20" y1="437.60" x2="400.20" y2="440.80" stroke="#111" stroke-width="1.4"/>
<line x1="425.00" y1="437.60" x2="425.00" y2="440.80" stroke="#111" stroke-width="1.4"/>
<line x1="285.10" y1="370.90" x2="285.10" y2="374.30" stroke="#111" stroke-width="1.3"/>
<line x1="280.60" y1="370.90" x2="289.60" y2="370.90" stroke="#111" stroke-width="1.3"/>
<rect x="276.70" y="374.30" width="16.80" height="64.00" fill="#fff" stroke="#1a1a1a" stroke-width="1.3"/>
<line x1="309.50" y1="420.50" x2="309.50" y2="422.60" stroke="#111" stroke-width="1.3"/>
<line x1="305.00" y1="420.50" x2="314.00" y2="420.50" stroke="#111" stroke-width="1.3"/>
<rect x="301.10" y="422.60" width="16.80" height="15.70" fill="#fff" stroke="#1a1a1a" stroke-width="1.3"/>
<line x1="334.20" y1="368.90" x2="334.20" y2="371.50" stroke="#111" stroke-width="1.3"/>
<line x1="329.60" y1="368.90" x2="338.80" y2="368.90" stroke="#111" stroke-width="1.3"/>
<rect x="326.00" y="371.50" width="16.40" height="66.80" fill="#fff" stroke="#1a1a1a" stroke-width="1.3"/>
<line x1="375.60" y1="352.50" x2="375.60" y2="354.80" stroke="#111" stroke-width="1.3"/>
<line x1="371.40" y1="352.50" x2="379.80" y2="352.50" stroke="#111" stroke-width="1.3"/>
<rect x="367.50" y="354.80" width="16.20" height="83.50" fill="#fff" stroke="#1a1a1a" stroke-width="1.3"/>
<line x1="400.15" y1="385.90" x2="400.15" y2="387.80" stroke="#111" stroke-width="1.3"/>
<line x1="395.85" y1="385.90" x2="404.45" y2="385.90" stroke="#111" stroke-width="1.3"/>
<rect x="392.00" y="387.80" width="16.30" height="50.50" fill="#fff" stroke="#1a1a1a" stroke-width="1.3"/>
<line x1="425.15" y1="350.60" x2="425.15" y2="353.70" stroke="#111" stroke-width="1.3"/>
<line x1="420.85" y1="350.60" x2="429.45" y2="350.60" stroke="#111" stroke-width="1.3"/>
<rect x="417.00" y="353.70" width="16.30" height="84.60" fill="#fff" stroke="#1a1a1a" stroke-width="1.3"/>
<line x1="368.70" y1="342.50" x2="431.30" y2="342.50" stroke="#111" stroke-width="1.4"/>
<path d="M397.90,337.50H403.50M400.70,334.70V340.30" stroke="#1a1a1a" stroke-width="1.2" fill="none"/>
<path d="M310.00,414.90L310.00,411.90M310.00,414.90L307.15,413.97M310.00,414.90L308.24,417.33M310.00,414.90L311.76,417.33M310.00,414.90L312.85,413.97" stroke="#1a1a1a" stroke-width="1.25" stroke-linecap="round" fill="none"/>
<path d="M400.30,380.50L400.30,377.50M400.30,380.50L397.45,379.57M400.30,380.50L398.54,382.93M400.30,380.50L402.06,382.93M400.30,380.50L403.15,379.57" stroke="#1a1a1a" stroke-width="1.25" stroke-linecap="round" fill="none"/>
<text x="284.8" y="451" font-family='"Liberation Serif", serif' font-size="11" font-weight="bold" text-anchor="middle" fill="#111" stroke="#111" stroke-width="0.18">C</text>
<text x="309.5" y="451" font-family='"Liberation Serif", serif' font-size="11" font-weight="bold" text-anchor="middle" fill="#111" stroke="#111" stroke-width="0.18">AO</text>
<text x="334.2" y="451" font-family='"Liberation Serif", serif' font-size="11" font-weight="bold" text-anchor="middle" fill="#111" stroke="#111" stroke-width="0.18">OR</text>
<text x="375.8" y="451" font-family='"Liberation Serif", serif' font-size="11" font-weight="bold" text-anchor="middle" fill="#111" stroke="#111" stroke-width="0.18">C</text>
<text x="400.4" y="451" font-family='"Liberation Serif", serif' font-size="11" font-weight="bold" text-anchor="middle" fill="#111" stroke="#111" stroke-width="0.18">AO</text>
<text x="425.2" y="451" font-family='"Liberation Serif", serif' font-size="11" font-weight="bold" text-anchor="middle" fill="#111" stroke="#111" stroke-width="0.18">OR</text>
<text x="310.6" y="462" font-family='"Liberation Serif", serif' font-size="11" font-weight="bold" text-anchor="middle" fill="#111" stroke="#111" stroke-width="0.18">12h light</text>
<text x="404" y="461.5" font-family='"Liberation Serif", serif' font-size="11" font-weight="bold" text-anchor="middle" fill="#111" stroke="#111" stroke-width="0.18">12h dark</text>
<text x="241" y="385.5" font-family='"Liberation Serif", serif' font-size="11.1" text-anchor="middle" fill="#111" transform="rotate(-90 241 385.5)">Body Temperature (<tspan font-size="7.2" dy="-4.5">o</tspan><tspan dy="4.5">C)</tspan></text>
<line x1="482.60" y1="330.90" x2="482.60" y2="438.70" stroke="#111" stroke-width="1.4"/>
<line x1="479.60" y1="331.60" x2="482.60" y2="331.60" stroke="#111" stroke-width="1.4"/>
<line x1="479.60" y1="346.95" x2="482.60" y2="346.95" stroke="#111" stroke-width="1.4"/>
<line x1="479.60" y1="362.30" x2="482.60" y2="362.30" stroke="#111" stroke-width="1.4"/>
<line x1="479.60" y1="377.65" x2="482.60" y2="377.65" stroke="#111" stroke-width="1.4"/>
<line x1="479.60" y1="393.00" x2="482.60" y2="393.00" stroke="#111" stroke-width="1.4"/>
<line x1="479.60" y1="408.35" x2="482.60" y2="408.35" stroke="#111" stroke-width="1.4"/>
<line x1="479.60" y1="423.70" x2="482.60" y2="423.70" stroke="#111" stroke-width="1.4"/>
<text x="479.5" y="335.40000000000003" font-family='"Liberation Serif", serif' font-size="11" font-weight="bold" text-anchor="end" fill="#111" stroke="#111" stroke-width="0.18">7</text>
<text x="479.5" y="366.1" font-family='"Liberation Serif", serif' font-size="11" font-weight="bold" text-anchor="end" fill="#111" stroke="#111" stroke-width="0.18">5</text>
<text x="479.5" y="396.8" font-family='"Liberation Serif", serif' font-size="11" font-weight="bold" text-anchor="end" fill="#111" stroke="#111" stroke-width="0.18">3</text>
<text x="479.5" y="427.5" font-family='"Liberation Serif", serif' font-size="11" font-weight="bold" text-anchor="end" fill="#111" stroke="#111" stroke-width="0.18">1</text>
<line x1="481.90" y1="438.70" x2="662.50" y2="438.70" stroke="#111" stroke-width="1.4"/>
<line x1="503.20" y1="438.70" x2="503.20" y2="441.90" stroke="#111" stroke-width="1.4"/>
<line x1="527.50" y1="438.70" x2="527.50" y2="441.90" stroke="#111" stroke-width="1.4"/>
<line x1="551.80" y1="438.70" x2="551.80" y2="441.90" stroke="#111" stroke-width="1.4"/>
<line x1="592.60" y1="438.70" x2="592.60" y2="441.90" stroke="#111" stroke-width="1.4"/>
<line x1="617.20" y1="438.70" x2="617.20" y2="441.90" stroke="#111" stroke-width="1.4"/>
<line x1="641.50" y1="438.70" x2="641.50" y2="441.90" stroke="#111" stroke-width="1.4"/>
<line x1="503.10" y1="408.30" x2="503.10" y2="412.30" stroke="#111" stroke-width="1.3"/>
<line x1="498.90" y1="408.30" x2="507.30" y2="408.30" stroke="#111" stroke-width="1.3"/>
<rect x="494.80" y="412.30" width="16.60" height="27.10" fill="#fff" stroke="#1a1a1a" stroke-width="1.3"/>
<line x1="527.60" y1="412.50" x2="527.60" y2="415.30" stroke="#111" stroke-width="1.3"/>
<line x1="523.40" y1="412.50" x2="531.80" y2="412.50" stroke="#111" stroke-width="1.3"/>
<rect x="519.30" y="415.30" width="16.60" height="24.10" fill="#fff" stroke="#1a1a1a" stroke-width="1.3"/>
<line x1="551.85" y1="402.60" x2="551.85" y2="407.10" stroke="#111" stroke-width="1.3"/>
<line x1="547.65" y1="402.60" x2="556.05" y2="402.60" stroke="#111" stroke-width="1.3"/>
<rect x="543.70" y="407.10" width="16.30" height="32.30" fill="#fff" stroke="#1a1a1a" stroke-width="1.3"/>
<line x1="592.60" y1="368.20" x2="592.60" y2="375.50" stroke="#111" stroke-width="1.3"/>
<line x1="588.40" y1="368.20" x2="596.80" y2="368.20" stroke="#111" stroke-width="1.3"/>
<rect x="584.30" y="375.50" width="16.60" height="63.90" fill="#fff" stroke="#1a1a1a" stroke-width="1.3"/>
<line x1="617.20" y1="382.70" x2="617.20" y2="387.40" stroke="#111" stroke-width="1.3"/>
<line x1="613.00" y1="382.70" x2="621.40" y2="382.70" stroke="#111" stroke-width="1.3"/>
<rect x="608.90" y="387.40" width="16.60" height="52.00" fill="#fff" stroke="#1a1a1a" stroke-width="1.3"/>
<line x1="641.45" y1="349.20" x2="641.45" y2="353.90" stroke="#111" stroke-width="1.3"/>
<line x1="637.25" y1="349.20" x2="645.65" y2="349.20" stroke="#111" stroke-width="1.3"/>
<rect x="633.30" y="353.90" width="16.30" height="85.50" fill="#fff" stroke="#1a1a1a" stroke-width="1.3"/>
<line x1="584.00" y1="331.60" x2="647.40" y2="331.60" stroke="#111" stroke-width="1.4"/>
<path d="M614.20,326.60H619.80M617.00,323.80V329.40" stroke="#1a1a1a" stroke-width="1.2" fill="none"/>
<path d="M617.90,380.40L617.90,377.70M617.90,380.40L615.33,379.57M617.90,380.40L616.31,382.58M617.90,380.40L619.49,382.58M617.90,380.40L620.47,379.57" stroke="#1a1a1a" stroke-width="1.25" stroke-linecap="round" fill="none"/>
<path d="M641.90,345.30L641.90,342.60M641.90,345.30L639.33,344.47M641.90,345.30L640.31,347.48M641.90,345.30L643.49,347.48M641.90,345.30L644.47,344.47" stroke="#1a1a1a" stroke-width="1.25" stroke-linecap="round" fill="none"/>
<path d="M641.77,334.34L640.78,341.00M644.02,334.34L643.03,341.00M639.52,336.60L645.28,336.60M639.52,338.87L645.28,338.87" stroke="#1a1a1a" stroke-width="1.15" fill="none"/>
<text x="503.2" y="452.5" font-family='"Liberation Serif", serif' font-size="11" font-weight="bold" text-anchor="middle" fill="#111" stroke="#111" stroke-width="0.18">C</text>
<text x="527.6" y="452.5" font-family='"Liberation Serif", serif' font-size="11" font-weight="bold" text-anchor="middle" fill="#111" stroke="#111" stroke-width="0.18">AO</text>
<text x="551.8" y="452.5" font-family='"Liberation Serif", serif' font-size="11" font-weight="bold" text-anchor="middle" fill="#111" stroke="#111" stroke-width="0.18">OR</text>
<text x="592.8" y="452.5" font-family='"Liberation Serif", serif' font-size="11" font-weight="bold" text-anchor="middle" fill="#111" stroke="#111" stroke-width="0.18">C</text>
<text x="617" y="452.5" font-family='"Liberation Serif", serif' font-size="11" font-weight="bold" text-anchor="middle" fill="#111" stroke="#111" stroke-width="0.18">AO</text>
<text x="641.3" y="452.5" font-family='"Liberation Serif", serif' font-size="11" font-weight="bold" text-anchor="middle" fill="#111" stroke="#111" stroke-width="0.18">OR</text>
<text x="529" y="462.5" font-family='"Liberation Serif", serif' font-size="11" font-weight="bold" text-anchor="middle" fill="#111" stroke="#111" stroke-width="0.18">12h light</text>
<text x="617" y="463" font-family='"Liberation Serif", serif' font-size="11" font-weight="bold" text-anchor="middle" fill="#111" stroke="#111" stroke-width="0.18">12h dark</text>
<text x="449.5" y="384" font-family='"Liberation Serif", serif' font-size="10.3" font-weight="normal" text-anchor="middle" fill="#111" stroke="#111" stroke-width="0.18" transform="rotate(-90 449.5 384)">Locomotor activity</text>
<text x="466" y="384" font-family='"Liberation Serif", serif' font-size="10.3" text-anchor="middle" fill="#111" transform="rotate(-90 466 384)">(count min<tspan font-size="7" dy="-4">-1</tspan><tspan dy="4">)</tspan></text>
<defs>
<linearGradient id="tubeC" x1="0" x2="1" y1="0" y2="0">
<stop offset="0" stop-color="#f00000"/><stop offset="0.25" stop-color="#ff2424"/><stop offset="0.5" stop-color="#ff3a3a"/><stop offset="0.75" stop-color="#f00a0a"/><stop offset="1" stop-color="#c80000"/></linearGradient>
<linearGradient id="tubeO" x1="0" x2="1" y1="0" y2="0">
<stop offset="0" stop-color="#f20000"/><stop offset="0.3" stop-color="#ff3030"/><stop offset="0.6" stop-color="#ff2020"/><stop offset="1" stop-color="#d00000"/></linearGradient>
<linearGradient id="gr" x1="0" x2="1" y1="0" y2="0">
<stop offset="0" stop-color="#7ee07e"/><stop offset="0.5" stop-color="#9aea9a"/><stop offset="1" stop-color="#78da78"/></linearGradient>
<linearGradient id="ol" x1="0" x2="0" y1="0" y2="1">
<stop offset="0" stop-color="#8a6a10"/><stop offset="0.5" stop-color="#6e6a14"/><stop offset="1" stop-color="#7a6010"/></linearGradient>
</defs>
<path d="M48,10.3 L59.5,10 L60.3,30 L60.2,50 L58.5,70 L57.2,80 L56,87 L57.9,96 L59.2,106 L59.2,120 L59.3,127.5 L45.6,127.5 L44.5,118 L43,105 L42.4,85 L42.5,70 L43.2,50 L44.2,38 L45.8,28 L47.2,18 Z" fill="url(#tubeC)"/>
<path d="M46.5,45 L49,75 L47.5,100 L46,127.5 L48.5,127.5 L50,100 L51.5,75 L49,45 Z" fill="#ff7070" opacity="0.45"/>
<path d="M54.5,15 L56.5,50 L55,85 L56.5,110 L57.5,127.5 L59.3,127.5 L59.2,106 L57.9,96 L56,87 L58.5,60 L58.5,15 Z" fill="#b80000" opacity="0.45"/>
<path d="M48.6,104 L49.4,104 L51.6,127.5 L49.6,127.5 Z" fill="#ffe4e4" opacity="0.85"/>
<path d="M44.5,95 L46.5,95 L48,127.5 L46,127.5 Z" fill="#c00000" opacity="0.35"/>
<path d="M89.6,62 L101.8,62 L103.3,75 L105.7,100 L107,127.5 L90.9,127.5 L89.8,110 L88.8,80 Z" fill="url(#tubeO)"/>
<path d="M93.5,68 L97.5,68 L99.5,95 L97,124 L94.5,124 L95.8,95 Z" fill="#ff8e8e" opacity="0.55"/>
<ellipse cx="95.8" cy="76" rx="1.3" ry="3" fill="#ffd0d0" opacity="0.8"/>
<ellipse cx="97.3" cy="100" rx="1.1" ry="2.4" fill="#ffc8c8" opacity="0.7"/>
<ellipse cx="95.2" cy="113" rx="1" ry="2" fill="#ffc0c0" opacity="0.6"/>
<path d="M101,70 L103.3,75 L105.7,100 L107,127.5 L104.5,127.5 L103,100 L101,80 Z" fill="#b00000" opacity="0.4"/>
<path d="M88.5,12 Q88.5,10 91,10 L101.5,10 Q104,10 104,12.5 L104.3,19 L87.8,19 Z" fill="#ea1414"/>
<path d="M83,18.2 L106,18.2 Q108,18.6 107.9,22 L107.6,28 L105.6,36 L105.4,42 L107.6,52 L108.5,61 Q108.6,65 105.5,65 L88,65 Q85.3,65 85.2,62 L84.6,52 L83.6,40 L81.6,27 L81.5,21 Q81.6,18.2 83,18.2 Z" fill="url(#gr)"/>
<path d="M88.9,18.2 L101.5,18.2 L100.4,27 L98.6,33 L97.3,38 L98.6,43 L100.8,52 L102.2,65 L89.6,65 L90.3,52 L91.2,43 L91,37 L90.2,28 Z" fill="url(#ol)"/>
<path d="M90.5,33 L99,31 L98,36 L92,38 Z" fill="#5a5a10" opacity="0.6"/>
<path d="M141.6,10.9 L158.5,10.9 L158.4,17.5 L156.8,18.6 L156.6,50 L157,85 L155.3,127.5 L137.9,127.5 L139,100 L139.7,70 L139.7,40 L141,20 Z" fill="url(#tubeO)"/>
<path d="M147,11 L158.5,11 L158.4,18 L156.6,20.8 L151,22 L147.5,18 Z" fill="#c2000c" opacity="0.75"/>
<path d="M153,22 L156.6,24 L156.6,60 L157,85 L155.3,127.5 L152.5,127.5 L154,85 L153.5,50 Z" fill="#b00000" opacity="0.45"/>
<path d="M142,25 L145,22 L150,55 L153,90 L151,127.5 L148.5,127.5 L150,90 L147,55 Z" fill="#ff7878" opacity="0.45"/>
<path d="M140,70 L143,62 L147,95 L146.5,127.5 L144,127.5 L144,95 Z" fill="#ff9090" opacity="0.35"/>
<path d="M152,30 L146,60 L141,90 L139.5,92 L140.5,75 L150,28 Z" fill="#c00000" opacity="0.35"/>
<path d="M162.5,24.5 L171,24.5 L171,60.7 L162.5,60.7" fill="none" stroke="#000" stroke-width="2"/>
<rect x="112.90" y="123.60" width="19.30" height="2.70" fill="#000"/>
<text x="121.6" y="120.9" font-family='"Liberation Serif", serif' font-size="9" font-weight="bold" text-anchor="middle" fill="#111" stroke="#111" stroke-width="0.18">2 mm</text>
<text x="51.5" y="146.2" font-family='"Liberation Serif", serif' font-size="14" font-weight="bold" text-anchor="middle" fill="#111" stroke="#111" stroke-width="0.18">C</text>
<text x="96.3" y="146.2" font-family='"Liberation Serif", serif' font-size="14" font-weight="bold" text-anchor="middle" fill="#111" stroke="#111" stroke-width="0.18">AO</text>
<text x="144.6" y="146.2" font-family='"Liberation Serif", serif' font-size="14" font-weight="bold" text-anchor="middle" fill="#111" stroke="#111" stroke-width="0.18">OR</text>
</svg>
</body></html>
